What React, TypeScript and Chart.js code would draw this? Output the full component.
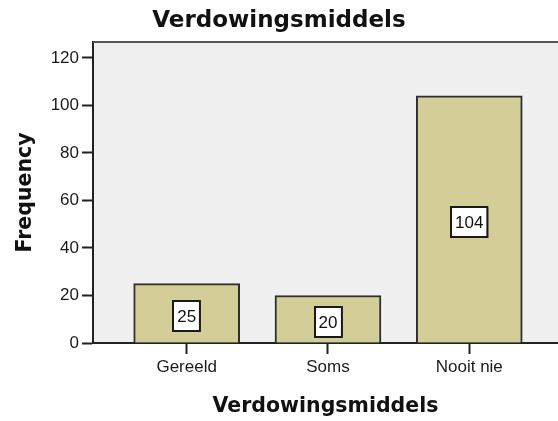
import React, { useEffect, useRef } from "react";
import { Chart, registerables } from "chart.js";

Chart.register(...registerables);

const categories = ["Gereeld", "Soms", "Nooit nie"];
const frequencies = [25, 20, 104];
const yTicks = [0, 20, 40, 60, 80, 100, 120];
const chartTitle = "Verdowingsmiddels";
const xTitle = "Verdowingsmiddels";
const yTitle = "Frequency";

const plotStyle = {
  id: "plotStyle",
  beforeDraw(chart: any) {
    const { ctx, chartArea } = chart;
    ctx.save();
    ctx.fillStyle = "#f0f0f0";
    ctx.fillRect(chartArea.left, chartArea.top, chartArea.right - chartArea.left, chartArea.bottom - chartArea.top);
    ctx.restore();
  },
  afterDraw(chart: any) {
    const { ctx, chartArea } = chart;
    ctx.save();
    ctx.strokeStyle = "#555555";
    ctx.lineWidth = 2;
    ctx.beginPath();
    ctx.moveTo(chartArea.left, chartArea.top);
    ctx.lineTo(chartArea.right, chartArea.top);
    ctx.stroke();
    ctx.restore();
  },
};

const valueBoxes = {
  id: "valueBoxes",
  afterDatasetsDraw(chart: any) {
    const { ctx } = chart;
    const meta = chart.getDatasetMeta(0);
    const data = chart.data.datasets[0].data as any[];
    ctx.save();
    ctx.font = "17px 'Liberation Sans', Arial, sans-serif";
    meta.data.forEach((el: any, i: number) => {
      const text = String(data[i].y);
      const tw = ctx.measureText(text).width;
      const w = tw + 8;
      const h = 30;
      const cx = el.x;
      const cy = (el.y + el.base) / 2 + 3;
      const x0 = Math.round(cx - w / 2);
      const y0 = Math.round(cy - h / 2);
      ctx.fillStyle = "#808080";
      ctx.fillRect(x0 + 1, y0 + 1, w, h);
      ctx.fillStyle = "#ffffff";
      ctx.fillRect(x0, y0, w, h);
      ctx.strokeStyle = "#1a1a1a";
      ctx.lineWidth = 2;
      ctx.strokeRect(x0, y0, w, h);
      ctx.fillStyle = "#111111";
      ctx.textAlign = "center";
      ctx.textBaseline = "middle";
      ctx.fillText(text, cx, y0 + h / 2 + 1);
    });
    ctx.restore();
  },
};

export default function App() {
  const ref = useRef<HTMLCanvasElement | null>(null);
  useEffect(() => {
    if (!ref.current) return;
    const chart = new Chart(ref.current, {
      type: "bar",
      data: {
        datasets: [
          {
            data: frequencies.map((v, i) => ({ x: i, y: v })),
            backgroundColor: "#d3ce98",
            borderColor: "#2e2e2e",
            borderWidth: 2,
            barThickness: 106,
          },
        ],
      },
      options: {
        responsive: false,
        animation: false,
        layout: { padding: 0 },
        plugins: {
          legend: { display: false },
          tooltip: { enabled: false },
          title: {
            display: true,
            text: chartTitle,
            color: "#111111",
            font: { family: "'DejaVu Sans', sans-serif", size: 23, weight: "bold", lineHeight: 1.2 },
            padding: { top: 7.2, bottom: 7.2 },
          },
        },
        scales: {
          x: {
            type: "linear",
            offset: false,
            min: -0.663,
            max: 2.628,
            afterBuildTicks(scale: any) {
              scale.ticks = categories.map((_, i) => ({ value: i }));
            },
            afterFit(scale: any) {
              scale.height = 78;
            },
            grid: { offset: false, drawOnChartArea: false, drawTicks: true, tickLength: 11, tickWidth: 2, tickColor: "#222222" },
            border: { display: true, color: "#222222", width: 2 },
            ticks: {
              padding: 3,
              color: "#1a1a1a",
              font: { family: "'Liberation Sans', Arial, sans-serif", size: 17 },
              callback: (v: any) => categories[Number(v)] ?? "",
            },
            title: {
              display: true,
              text: xTitle,
              color: "#111111",
              font: { family: "'DejaVu Sans', sans-serif", size: 20.5, weight: "bold", lineHeight: 1.2 },
              padding: { top: 0, bottom: 2 },
            },
          },
          y: {
            min: 0,
            max: 126.7,
            afterBuildTicks(scale: any) {
              scale.ticks = yTicks.map((v) => ({ value: v }));
            },
            afterFit(scale: any) {
              scale.width = 93;
            },
            grid: { drawOnChartArea: false, drawTicks: true, tickLength: 11, tickWidth: 2, tickColor: "#222222" },
            border: { display: true, color: "#222222", width: 2 },
            ticks: {
              padding: 3,
              color: "#1a1a1a",
              font: { family: "'Liberation Sans', Arial, sans-serif", size: 17 },
            },
            title: {
              display: true,
              text: yTitle,
              color: "#111111",
              font: { family: "'DejaVu Sans', sans-serif", size: 20.5, weight: "bold", lineHeight: 1.2 },
              padding: { top: 13, bottom: 0 },
            },
          },
        },
      },
      plugins: [plotStyle, valueBoxes],
    });
    return () => chart.destroy();
  }, []);
  return (
    <div style={{ position: "fixed", left: 0, top: 0, width: 558, height: 421, background: "#ffffff" }}>
      <canvas ref={ref} width={558} height={421} style={{ display: "block" }} />
    </div>
  );
}
